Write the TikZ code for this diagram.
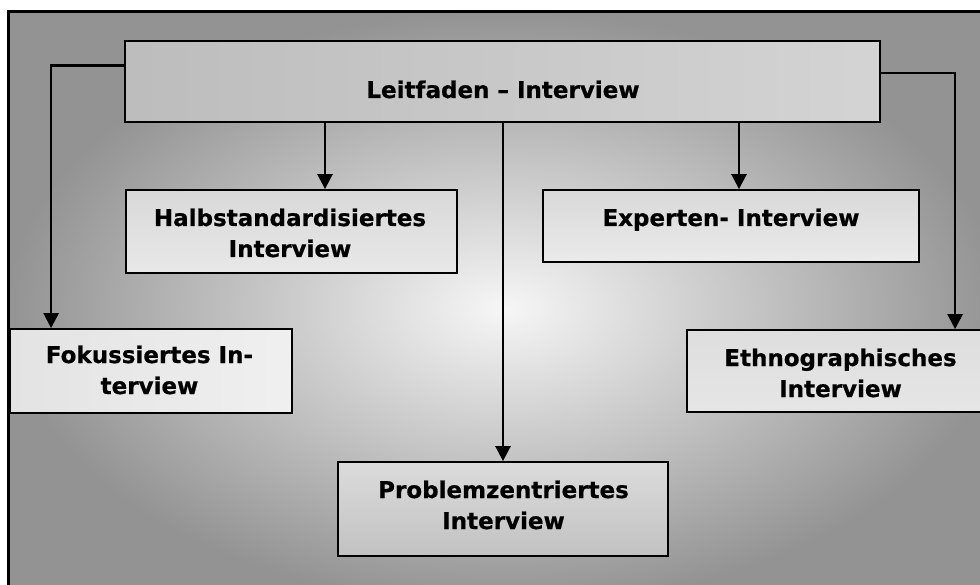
\documentclass[tikz,border=0pt]{standalone}
\usepackage{fontspec}
\setmainfont{DejaVu Sans}
\newfontfamily\boxfont[FakeBold=0.6]{DejaVu Sans Bold}
\usetikzlibrary{arrows.meta}
\definecolor{framegray}{HTML}{939393}
\definecolor{framelight}{HTML}{F6F6F6}
\begin{document}
\begin{tikzpicture}[x=1pt,y=-1pt,
  box/.style={draw=black, line width=1.8pt, rectangle, inner sep=0pt},
  lbl/.style={font=\boxfont\fontsize{23}{31}\selectfont, align=center, inner sep=0pt, text=black},
  arr/.style={line width=2.6pt, -{Triangle[length=15pt,width=15pt]}}]
\useasboundingbox (0,0) rectangle (980,585);
\clip (0,0) rectangle (980,585);
% outer frame
\draw[line width=3pt, inner color=framelight, outer color=framegray] (8,12) rectangle (1000,605);
% boxes
\node[box, minimum width=755pt, minimum height=81pt, left color=black!26, right color=black!17] (leit) at (502.5,81.5) {};
\node[box, minimum width=331pt, minimum height=83pt, top color=black!15, bottom color=black!9] (halb) at (291.5,231.5) {};
\node[box, minimum width=376pt, minimum height=72pt, top color=black!15, bottom color=black!8] (exp) at (731,226) {};
\node[box, minimum width=282pt, minimum height=84pt, left color=black!11, right color=black!6] (fok) at (151,371) {};
\node[box, minimum width=307pt, minimum height=82pt, top color=black!13, bottom color=black!10] (eth) at (840.5,371) {};
\node[box, minimum width=330pt, minimum height=94pt, top color=black!14, bottom color=black!24] (prob) at (503,509) {};
% texts (anchor base = baseline of last line)
\node[lbl, anchor=base] (leit-t) at (503,98) {Leitfaden – Interview};
\node[lbl, anchor=base] (halb-t) at (290,257) {Halbstandardisiertes\\Interview};
\node[lbl, anchor=base] (exp-t) at (731,226) {Experten- Interview};
\node[lbl, anchor=base] (fok-t) at (149.5,394) {Fokussiertes In-\\terview};
\node[lbl, anchor=base] (eth-t) at (840.5,397) {Ethnographisches\\Interview};
\node[lbl, anchor=base] (prob-t) at (503.5,529) {Problemzentriertes\\Interview};
% connector x positions
\coordinate (xh) at (325,0);
\coordinate (xp) at (503,0);
\coordinate (xe) at (739,0);
% connectors
\draw[arr] ([yshift=16pt]leit.west) -| ([xshift=42pt]fok.north west);
\draw[arr] ([yshift=8.5pt]leit.east) -| ([xshift=269pt]eth.north west);
\draw[arr] (leit.south -| xh) -- (halb.north -| xh);
\draw[arr] (leit.south -| xp) -- (prob.north -| xp);
\draw[arr] (leit.south -| xe) -- (exp.north -| xe);
\end{tikzpicture}
\end{document}
